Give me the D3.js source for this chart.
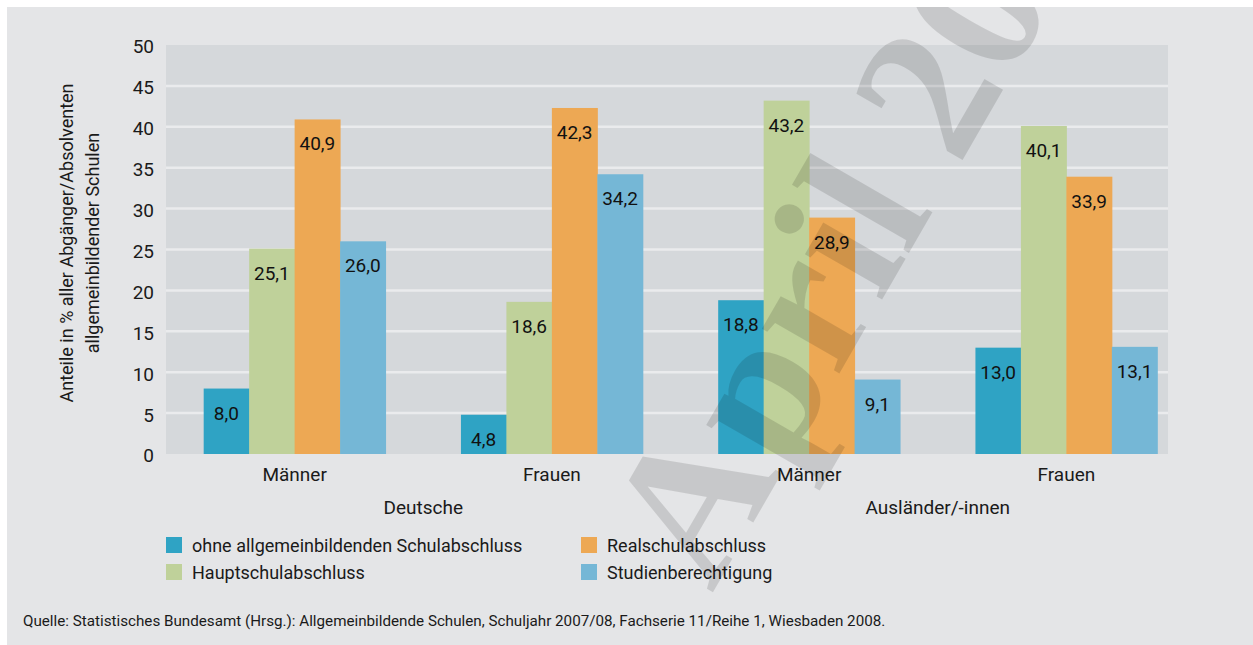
<!DOCTYPE html>
<html>
<head>
<meta charset="utf-8">
<script src="https://cdn.jsdelivr.net/npm/d3@7"></script>
<style>
  body { margin: 0; background: #fff; }
  svg { display: block; font-family: Roboto, "Liberation Sans", sans-serif; }
</style>
</head>
<body>
<svg id="chart" width="1253" height="645"></svg>
<script>
// Data
const groups = ['Deutsche', 'Ausländer/-innen'];
const categories = ['Männer', 'Frauen', 'Männer', 'Frauen'];
const seriesNames = ['ohne allgemeinbildenden Schulabschluss', 'Hauptschulabschluss', 'Realschulabschluss', 'Studienberechtigung'];
const ohneAbschluss = [8.0, 4.8, 18.8, 13.0];
const hauptschule = [25.1, 18.6, 43.2, 40.1];
const realschule = [40.9, 42.3, 28.9, 33.9];
const studium = [26.0, 34.2, 9.1, 13.1];
const yTicks = [0, 5, 10, 15, 20, 25, 30, 35, 40, 45, 50];
const yTitle = ['Anteile in % aller Abgänger/Absolventen', 'allgemeinbildender Schulen'];
const source = 'Quelle: Statistisches Bundesamt (Hrsg.): Allgemeinbildende Schulen, Schuljahr 2007/08, Fachserie 11/Reihe 1, Wiesbaden 2008.';
const watermark = 'April 2012';

const colors = ['#2fa3c4', '#bfd19a', '#eda854', '#75b7d6'];
const seriesValues = [ohneAbschluss, hauptschule, realschule, studium];

const svg = d3.select('#chart');
const W = 1253, H = 645;
const plot = { left: 166, right: 1168, top: 45, bottom: 454 };

// panel
svg.append('rect').attr('x', 7).attr('y', 7).attr('width', W - 7).attr('height', H - 7).attr('fill', '#e4e5e7');
svg.append('rect')
    .attr('x', plot.left).attr('y', plot.top)
    .attr('width', plot.right - plot.left).attr('height', plot.bottom - plot.top)
    .attr('fill', '#d5d8db');

// scales
const y = d3.scaleLinear().domain([0, 50]).range([plot.bottom, plot.top]);
const x0 = d3.scaleBand().domain(d3.range(categories.length))
    .range([plot.left, 1195]).paddingInner(0.293).paddingOuter(0.1465);
const x1 = d3.scaleBand().domain(d3.range(seriesNames.length)).range([0, x0.bandwidth()]);

// gridlines
svg.append('g').selectAll('line')
    .data(yTicks.filter(t => t > 0 && t < 50))
    .join('line')
    .attr('x1', plot.left).attr('x2', plot.right)
    .attr('y1', d => y(d)).attr('y2', d => y(d))
    .attr('stroke', '#eaebed').attr('stroke-width', 2.5);

// y axis labels
const yAxis = svg.append('g')
    .attr('transform', `translate(${plot.left - 12},0)`)
    .call(d3.axisLeft(y).tickValues(yTicks).tickSize(0).tickPadding(0));
yAxis.select('.domain').remove();
yAxis.selectAll('text').attr('font-size', 19).attr('fill', '#1a1a1a').attr('dy', '0.42em')
    .style('font-family', 'Roboto, sans-serif');

// y title
svg.append('text')
    .attr('transform', `translate(73,243) rotate(-90)`)
    .attr('text-anchor', 'middle').attr('font-size', 18).attr('fill', '#1a1a1a')
    .selectAll('tspan').data(yTitle).join('tspan')
    .attr('x', 0).attr('dy', (d, i) => i ? 26 : 0)
    .text(d => d);

// bars
const fmt = v => d3.format('.1f')(v).replace('.', ',');
const gBars = svg.append('g');
categories.forEach((c, i) => {
    seriesValues.forEach((vals, j) => {
        const v = vals[i];
        const bx = x0(i) + x1(j);
        gBars.append('rect')
            .attr('x', bx).attr('y', y(v))
            .attr('width', x1.bandwidth() + 0.5).attr('height', y(0) - y(v))
            .attr('fill', colors[j]);
        gBars.append('text')
            .attr('x', bx + x1.bandwidth() / 2).attr('y', y(v) + 31)
            .attr('text-anchor', 'middle').attr('font-size', 19).attr('fill', '#111')
            .text(fmt(v));
    });
});

// category axis
const xAxis = svg.append('g')
    .attr('transform', `translate(0,${plot.bottom})`)
    .call(d3.axisBottom(x0).tickFormat(i => categories[i]).tickSize(0).tickPadding(0));
xAxis.select('.domain').remove();
xAxis.selectAll('text').attr('font-size', 19).attr('fill', '#1a1a1a').attr('dy', 0).attr('y', 27)
    .style('font-family', 'Roboto, sans-serif');

// group labels
groups.forEach((g, k) => {
    const cx = (x0(2 * k) + x0(2 * k + 1) + x0.bandwidth()) / 2;
    svg.append('text').attr('x', cx).attr('y', 514)
        .attr('text-anchor', 'middle').attr('font-size', 19).attr('fill', '#1a1a1a')
        .text(g);
});

// legend
const legendPos = [[166, 537], [166, 564], [581, 537], [581, 564]];
seriesNames.forEach((name, j) => {
    const [lx, ly] = legendPos[j];
    svg.append('rect').attr('x', lx).attr('y', ly).attr('width', 16).attr('height', 16).attr('fill', colors[j]);
    svg.append('text').attr('x', lx + 26).attr('y', ly + 15)
        .attr('font-size', 18).attr('fill', '#1a1a1a').text(name);
});

// source
svg.append('text').attr('x', 23).attr('y', 626)
    .attr('font-size', 15.2).attr('fill', '#1a1a1a').text(source);

// watermark (clipped to the panel, as in the original)
svg.append('clipPath').attr('id', 'panelClip')
    .append('rect').attr('x', 7).attr('y', 7).attr('width', W - 7).attr('height', H - 7);
svg.append('g').attr('clip-path', 'url(#panelClip)')
    .append('text')
    .attr('transform', 'translate(712,594) rotate(-60)')
    .attr('font-family', '"Liberation Serif", serif').attr('font-weight', 'bold')
    .attr('font-size', 195).attr('fill', '#000').attr('fill-opacity', 0.125)
    .text(watermark);
</script>
</body>
</html>
